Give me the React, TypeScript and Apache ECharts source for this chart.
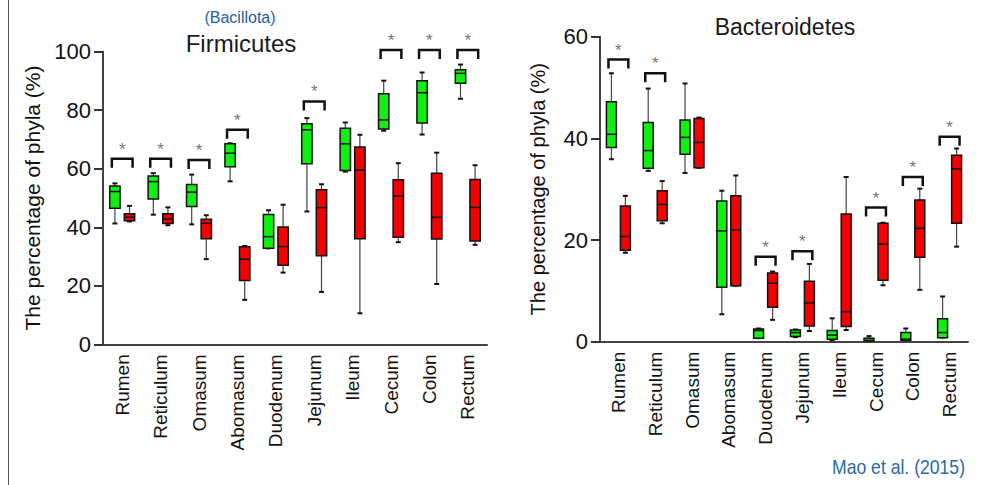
import React, { useEffect, useRef } from "react";
import * as echarts from "echarts";

// ---- Data ----
const categories = ["Rumen", "Reticulum", "Omasum", "Abomasum", "Duodenum", "Jejunum", "Ileum", "Cecum", "Colon", "Rectum"];

// Each entry: [min, Q1, median, Q3, max]
const firmGreen = [
  [41.3, 46.5, 52.2, 54.1, 55.0],
  [44.3, 49.7, 55.6, 57.5, 58.5],
  [41.0, 47.1, 52.0, 54.6, 58.0],
  [55.7, 60.7, 65.3, 68.5, 68.7],
  [32.8, 32.8, 36.8, 44.4, 45.8],
  [45.4, 61.7, 73.3, 75.4, 77.3],
  [59.0, 59.4, 68.5, 73.8, 75.8],
  [73.0, 73.6, 76.7, 85.6, 90.1],
  [71.7, 75.6, 86.0, 90.1, 92.9],
  [83.9, 89.2, 92.6, 93.8, 95.6],
];
const firmRed = [
  [42.0, 42.2, 43.4, 44.6, 47.3],
  [40.7, 41.3, 42.8, 44.6, 46.8],
  [29.1, 36.1, 41.4, 42.7, 44.1],
  [15.2, 21.8, 29.1, 33.3, 33.6],
  [24.5, 27.0, 33.4, 40.1, 47.7],
  [17.9, 30.3, 46.7, 52.8, 54.7],
  [10.6, 36.1, 59.6, 67.4, 71.6],
  [34.9, 36.6, 50.7, 56.2, 61.9],
  [20.6, 36.0, 43.4, 58.5, 65.5],
  [34.0, 35.3, 46.8, 56.3, 61.2],
];
// height of significance brackets (null = no bracket)
const firmBrackets = [63.4, 63.4, 63.0, 73.3, null, 83.0, null, 100.6, 100.6, 100.6];

const bactGreen = [
  [35.9, 38.2, 40.8, 47.2, 52.8],
  [33.6, 34.1, 37.6, 43.1, 49.8],
  [33.2, 36.9, 40.2, 43.6, 50.8],
  [5.4, 10.7, 21.8, 27.7, 29.7],
  [0.7, 0.7, 2.2, 2.5, 2.6],
  [0.9, 1.0, 1.8, 2.3, 2.4],
  [0.3, 0.5, 1.3, 2.2, 4.6],
  [0.2, 0.2, 0.6, 0.7, 1.1],
  [0.3, 0.3, 0.5, 1.8, 2.6],
  [0.8, 0.8, 1.8, 4.5, 8.9],
];
const bactRed = [
  [17.5, 18.0, 20.7, 26.7, 28.7],
  [23.3, 23.8, 27.0, 29.7, 31.6],
  [34.2, 34.2, 39.2, 43.9, 44.1],
  [11.0, 11.0, 22.0, 28.7, 32.7],
  [4.3, 6.8, 11.5, 13.5, 13.8],
  [2.1, 3.1, 7.6, 11.9, 15.3],
  [2.3, 3.0, 5.9, 25.1, 32.4],
  [11.1, 12.1, 19.2, 23.3, 23.4],
  [10.2, 16.6, 22.3, 27.9, 30.1],
  [18.7, 23.3, 34.0, 36.7, 38.0],
];
const bactBrackets = [55.5, 52.8, null, null, 16.7, 17.8, null, 26.4, 32.4, 40.3];

const firmTicks = { min: 0, max: 100, interval: 20 };
const bactTicks = { min: 0, max: 60, interval: 20 };

const GREEN = "#10f010";
const RED = "#f50000";
const FONT = "'Liberation Sans', Arial, sans-serif";

function boxData(rows: number[][]) {
  return rows.map((r, i) => [i, ...r]);
}
function bracketData(rows: (number | null)[]) {
  const out: number[][] = [];
  rows.forEach((v, i) => {
    if (v !== null) out.push([i, v]);
  });
  return out;
}

function makeBoxRenderer(offsetFrac: number, fill: string) {
  return (_params: any, api: any) => {
    const cat = api.value(0);
    const mn = api.value(1), q1 = api.value(2), md = api.value(3), q3 = api.value(4), mx = api.value(5);
    const band = api.size([1, 0])[0];
    const cx = api.coord([cat, 0])[0] + band * offsetFrac;
    const w = band * 0.27;
    const y = (v: number) => api.coord([cat, v])[1];
    const yMin = y(mn), yQ1 = y(q1), yMd = y(md), yQ3 = y(q3), yMax = y(mx);
    const cap = 2.5;
    return {
      type: "group",
      children: [
        { type: "line", shape: { x1: cx, y1: yMax, x2: cx, y2: yQ3 }, style: { stroke: "#444", lineWidth: 1.2 } },
        { type: "line", shape: { x1: cx, y1: yQ1, x2: cx, y2: yMin }, style: { stroke: "#444", lineWidth: 1.2 } },
        { type: "line", shape: { x1: cx - cap, y1: yMax, x2: cx + cap, y2: yMax }, style: { stroke: "#111", lineWidth: 2 } },
        { type: "line", shape: { x1: cx - cap, y1: yMin, x2: cx + cap, y2: yMin }, style: { stroke: "#111", lineWidth: 2 } },
        {
          type: "rect",
          shape: { x: cx - w / 2, y: yQ3, width: w, height: Math.max(yQ1 - yQ3, 1) },
          style: { fill, stroke: "#111", lineWidth: 1.5 },
        },
        { type: "line", shape: { x1: cx - w / 2, y1: yMd, x2: cx + w / 2, y2: yMd }, style: { stroke: "#111", lineWidth: 1.5 } },
      ],
    };
  };
}

function bracketRenderer(_params: any, api: any) {
  const cat = api.value(0);
  const v = api.value(1);
  const band = api.size([1, 0])[0];
  const c = api.coord([cat, v]);
  const half = band * 0.27;
  const leg = 9;
  return {
    type: "group",
    children: [
      {
        type: "polyline",
        shape: { points: [[c[0] - half, c[1] + leg], [c[0] - half, c[1]], [c[0] + half, c[1]], [c[0] + half, c[1] + leg]] },
        style: { stroke: "#111", lineWidth: 2.5, fill: "none" },
      },
      {
        type: "text",
        x: c[0],
        y: c[1] - 1,
        style: { text: "*", fill: "#777", font: `17px ${FONT}`, align: "center", verticalAlign: "bottom" },
      },
    ],
  };
}

function xAxisCfg(gridIndex: number) {
  return {
    type: "category",
    gridIndex,
    data: categories,
    boundaryGap: true,
    axisLine: { lineStyle: { color: "#444", width: 2 } },
    axisTick: { alignWithLabel: true, length: 6, lineStyle: { color: "#333", width: 2 } },
    axisLabel: { rotate: 90, fontSize: 19, color: "#111", fontFamily: FONT, margin: 10 },
  };
}

function yAxisCfg(gridIndex: number, t: { min: number; max: number; interval: number }, nameGap: number, nameSize: number) {
  return {
    type: "value",
    gridIndex,
    min: t.min,
    max: t.max,
    interval: t.interval,
    name: "The percentage of phyla (%)",
    nameLocation: "middle",
    nameGap,
    nameTextStyle: { fontSize: nameSize, color: "#111", fontFamily: FONT },
    axisLine: { show: true, lineStyle: { color: "#444", width: 2 } },
    axisTick: { show: true, length: 9, lineStyle: { color: "#333", width: 2 } },
    axisLabel: { fontSize: 22, color: "#111", fontFamily: FONT, margin: 12 },
    splitLine: { show: false },
  };
}

export default function App() {
  const ref = useRef<HTMLDivElement>(null);
  useEffect(() => {
    if (!ref.current) return;
    const chart = echarts.init(ref.current, undefined, { renderer: "svg" });
    chart.setOption({
      animation: false,
      backgroundColor: "#ffffff",
      grid: [
        { left: 103, top: 51.7, width: 384, height: 292.6 },
        { left: 600, top: 36.7, width: 368, height: 305 },
      ],
      xAxis: [xAxisCfg(0), xAxisCfg(1)],
      yAxis: [yAxisCfg(0, firmTicks, 60, 21), yAxisCfg(1, bactTicks, 52, 20)],
      graphic: [
        { type: "line", shape: { x1: 8.5, y1: 0, x2: 8.5, y2: 485 }, style: { stroke: "#555", lineWidth: 1 } },
        { type: "text", x: 240, y: 17, style: { text: "(Bacillota)", fill: "#1f5f9f", font: `16px ${FONT}`, align: "center", verticalAlign: "middle" } },
        { type: "text", x: 241, y: 43, style: { text: "Firmicutes", fill: "#1a1a1a", font: `24px ${FONT}`, align: "center", verticalAlign: "middle" } },
        { type: "text", x: 785, y: 27, style: { text: "Bacteroidetes", fill: "#1a1a1a", font: `23px ${FONT}`, align: "center", verticalAlign: "middle" } },
        {
          type: "text",
          x: 965,
          y: 467,
          scaleX: 0.88,
          style: { text: "Mao et al. (2015)", fill: "#2a6aa8", font: `20px ${FONT}`, align: "right", verticalAlign: "middle" },
        },
      ],
      series: [
        { type: "custom", xAxisIndex: 0, yAxisIndex: 0, data: boxData(firmGreen), renderItem: makeBoxRenderer(-0.19, GREEN), clip: false },
        { type: "custom", xAxisIndex: 0, yAxisIndex: 0, data: boxData(firmRed), renderItem: makeBoxRenderer(0.19, RED), clip: false },
        { type: "custom", xAxisIndex: 0, yAxisIndex: 0, data: bracketData(firmBrackets), renderItem: bracketRenderer, clip: false },
        { type: "custom", xAxisIndex: 1, yAxisIndex: 1, data: boxData(bactGreen), renderItem: makeBoxRenderer(-0.19, GREEN), clip: false },
        { type: "custom", xAxisIndex: 1, yAxisIndex: 1, data: boxData(bactRed), renderItem: makeBoxRenderer(0.19, RED), clip: false },
        { type: "custom", xAxisIndex: 1, yAxisIndex: 1, data: bracketData(bactBrackets), renderItem: bracketRenderer, clip: false },
      ],
    });
    return () => chart.dispose();
  }, []);
  return (
    <div
      ref={ref}
      style={{ position: "fixed", left: 0, top: 0, width: 989, height: 485, background: "#fff" }}
    />
  );
}
